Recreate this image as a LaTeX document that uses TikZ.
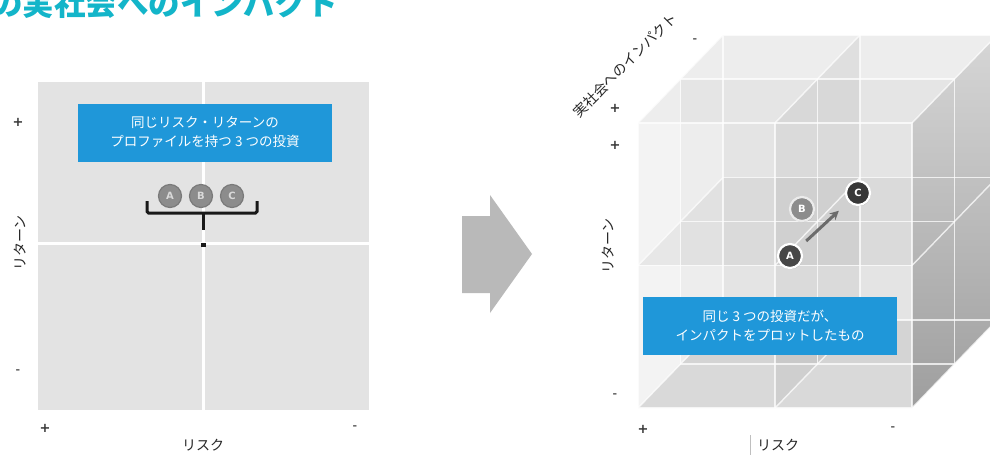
\documentclass[tikz,border=0pt]{standalone}
\usepackage{fontspec}
\newfontfamily\jp{Noto Sans CJK JP}
\newfontfamily\dv{DejaVu Sans}
\usetikzlibrary{arrows.meta,shadows}
\definecolor{titleteal}{RGB}{19,181,201}
\definecolor{boxblue}{RGB}{31,151,217}
\definecolor{panelgray}{RGB}{227,227,227}
\definecolor{bigarrow}{RGB}{185,185,185}
\tikzset{
  bluebox/.style={fill=boxblue, text=white, font=\jp\fontsize{13.5}{19}\selectfont, align=center, inner sep=0pt, minimum width=254pt, minimum height=58pt},
  axlabel/.style={font=\jp\fontsize{14}{14}\selectfont, text=black!85, inner sep=1pt},
  plusmark/.style={font=\dv\bfseries\fontsize{13}{13}\selectfont, text=black!78, inner sep=0pt},
  minusmark/.style={font=\dv\bfseries\fontsize{11}{11}\selectfont, text=black!60, inner sep=0pt},
  lcirc/.style={circle, fill=black!45, draw=black!52, line width=1.2pt, minimum size=23pt, inner sep=0pt, text=black!15, font=\dv\bfseries\fontsize{10}{10}\selectfont},
  rcirc/.style={circle, fill=black!72, draw=white, line width=2.2pt, minimum size=24pt, inner sep=0pt, text=white, font=\dv\bfseries\fontsize{10}{10}\selectfont, drop shadow={opacity=0.35, shadow xshift=0.8pt, shadow yshift=-1.2pt}},
  gridline/.style={draw=white, line width=1.4pt, opacity=0.75},
  bracketline/.style={draw=black!90, line width=3pt, rounded corners=1.5pt}
}
\begin{document}
\begin{tikzpicture}[x=1pt,y=-1pt]
\clip (0,0) rectangle (990,455);
\fill[white] (0,0) rectangle (990,455);

% ---------- title ----------
\node[anchor=base west, inner sep=0pt, text=titleteal, font=\jp\bfseries\fontsize{31.5}{31.5}\selectfont] (title) at (-9,15) {の実社会へのインパクト};

% ---------- left panel ----------
\fill[panelgray] (38,82) rectangle (369,410);
\draw[white, line width=3pt] (203,82) -- (203,410);
\draw[white, line width=3pt] (38,243) -- (369,243);

\node[bluebox] (lbox) at (205,132.5) {同じリスク・リターンの\\プロファイルを持つ 3 つの投資};

\node[lcirc] (la) at (170,196) {A};
\node[lcirc] (lb) at (201,196) {B};
\node[lcirc] (lc) at (232,196) {C};

\coordinate (brL) at (147,201);
\coordinate (brR) at (257,201);
\coordinate (brM) at (203,213);
\coordinate (brS) at (203,230);
\draw[bracketline] (brL) -- (147,213) -- (257,213) -- (brR);
\draw[draw=black!90, line width=3pt] (brM) -- (brS);
\fill[black!90] (201,242.5) rectangle (205.5,247);

\node[plusmark] (lrp) at (18,122) {+};
\node[minusmark] (lrm) at (18,372) {-};
\node[plusmark] (lkp) at (45,428) {+};
\node[minusmark] (lkm) at (355,428) {-};
\node[axlabel, rotate=90, fill=white] (lret) at (20,243) {リターン};
\node[axlabel] (lrisk) at (203,445) {リスク};

% ---------- big arrow ----------
\fill[bigarrow] (462,216) -- (490,216) -- (490,195) -- (532,254) -- (490,313) -- (490,293) -- (462,293) -- cycle;

% ---------- cube ----------
\coordinate (F00) at (638,123); \coordinate (F10) at (912,123);
\coordinate (F01) at (638,408); \coordinate (F11) at (912,408);
\coordinate (B00) at (723,35);  \coordinate (B10) at (997,35);
\coordinate (B01) at (723,320); \coordinate (B11) at (997,320);

% back face
\fill[black!10] (B00) rectangle (B11);
% left face
\fill[black!6] (F00) -- (B00) -- (B01) -- (F01) -- cycle;
% top face
\fill[black!7] (F00) -- (F10) -- (B10) -- (B00) -- cycle;
% floor
\fill[black!19] (F01) -- (F11) -- (B11) -- (B01) -- cycle;
% middle vertical depth plane
\fill[black, opacity=0.06] (775,123) -- (860,35) -- (860,320) -- (775,408) -- cycle;
% middle horizontal plane
\fill[black, opacity=0.06] (638,265) -- (912,265) -- (997,177) -- (723,177) -- cycle;
% middle depth layer
\fill[black, opacity=0.03] (680.5,79) rectangle (954.5,364);
% right face
\shade[top color=black!16, bottom color=black!38] (F10) -- (B10) -- (B11) -- (F11) -- cycle;
% front face
\fill[white, opacity=0.22] (F00) rectangle (F11);

% grid lines
\foreach \dx/\dy in {0/0, 42.5/-44, 85/-88} {
  \draw[gridline] (638+\dx,123+\dy) rectangle (912+\dx,408+\dy);
  \draw[gridline] (775+\dx,123+\dy) -- (775+\dx,408+\dy);
  \draw[gridline] (638+\dx,265.5+\dy) -- (912+\dx,265.5+\dy);
}
\foreach \x in {638,775,912} {
  \foreach \y in {123,265.5,408} {
    \draw[gridline] (\x,\y) -- (\x+85,\y-88);
  }
}

% markers in cube
\node[rcirc, fill=black!45, draw=black!8] (rb) at (802,209) {B};
\node[rcirc] (ra) at (790,256) {A};
\node[rcirc, fill=black!78] (rc) at (858,193) {C};
\draw[draw=black!58, line width=3pt, -{Stealth[length=9pt,width=9pt]}, shorten <=9pt, shorten >=13pt] (ra) -- (rc);

\node[bluebox] (rbox) at (770,326) {同じ 3 つの投資だが、\\インパクトをプロットしたもの};

% axes of cube
\node[plusmark] (rip) at (615,108) {+};
\node[minusmark] (rim) at (695,41) {-};
\node[plusmark] (rrp) at (615,145) {+};
\node[minusmark] (rrm) at (615,396) {-};
\node[plusmark] (rkp) at (643,429) {+};
\node[minusmark] (rkm) at (893,429) {-};
\node[axlabel, rotate=45] (rimp) at (625,65) {実社会へのインパクト};
\node[axlabel, rotate=90, fill=white] (rret) at (608,246) {リターン};
\draw[black!25, line width=0.8pt] (750,435) -- (750,455);
\node[axlabel] (rrisk) at (778,445) {リスク};
\end{tikzpicture}
\end{document}
